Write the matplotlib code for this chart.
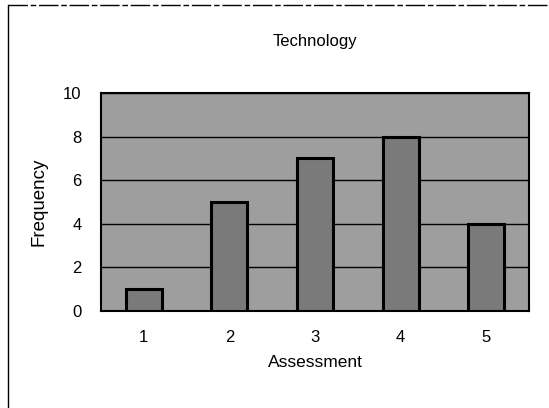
import matplotlib.pyplot as plt
from matplotlib.lines import Line2D

# survey counts per assessment score
scores = [1, 2, 3, 4, 5]
frequency = [1, 5, 7, 8, 4]
y_ticks = [0, 2, 4, 6, 8, 10]

plt.rcParams['font.family'] = ['Liberation Sans', 'DejaVu Sans']

fig = plt.figure(figsize=(5.49, 4.08), dpi=100)
ax = fig.add_axes([101 / 549, 1 - 311 / 408, 428 / 549, 218 / 408])

ax.set_facecolor('#9e9e9e')
ax.bar(scores, frequency, width=0.42, color='#7a7a7a', edgecolor='black',
       linewidth=2.2, zorder=3)

ax.set_xlim(0.5, 5.5)
ax.set_ylim(0, 10)
ax.set_yticks(y_ticks)
ax.set_xticks(scores)
ax.tick_params(length=0, labelsize=12, pad=14)
ax.yaxis.grid(True, color='black', linewidth=1.0, zorder=1)
ax.set_axisbelow(True)
for s in ax.spines.values():
    s.set_linewidth(1.5)
    s.set_color('black')

ax.set_title('Technology', fontsize=12, pad=34)
ax.set_xlabel('Assessment', fontsize=12.5, labelpad=7)
ax.set_ylabel('Frequency', fontsize=13.5, labelpad=11)

# frame around the chart
fig.add_artist(Line2D([8 / 549, 1], [1 - 5 / 408, 1 - 5 / 408], color='black',
                      linewidth=1, linestyle=(0, (14, 2, 4, 2))))
fig.add_artist(Line2D([8 / 549, 8 / 549], [0, 1 - 5 / 408], color='black',
                      linewidth=1))

fig.savefig('out.png', dpi=100)
